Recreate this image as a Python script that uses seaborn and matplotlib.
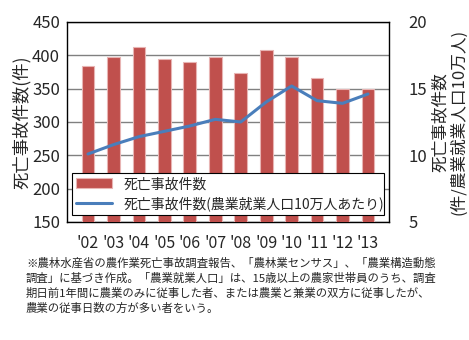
import matplotlib
matplotlib.use("Agg")
import matplotlib.pyplot as plt
import seaborn as sns
import pandas as pd
import numpy as np

years = ["'02", "'03", "'04", "'05", "'06", "'07", "'08", "'09", "'10", "'11", "'12", "'13"]
deaths = [384, 397, 413, 394, 390, 397, 374, 408, 398, 366, 350, 350]
rate = [10.1, 10.8, 11.4, 11.8, 12.2, 12.7, 12.5, 14.0, 15.2, 14.1, 13.9, 14.6]

sns.set_theme(style="white")
plt.rcParams['font.family'] = ['Noto Sans CJK JP', 'DejaVu Sans']

fig = plt.figure(figsize=(4.69, 3.4), dpi=100)
ax = fig.add_axes([67/469, 1-222/340, (389-67)/469, 200/340])
df = pd.DataFrame({"year": years, "deaths": deaths, "rate": rate})

sns.barplot(data=df, x="year", y="deaths", ax=ax, color="#C0504D", saturation=1,
            width=0.5, edgecolor="#E8B4B3", linewidth=0.8, label="死亡事故件数", zorder=3)
ax.set_ylim(150, 450)
ax.set_yticks(range(150, 451, 50))
ax.grid(axis="y", color="#808080", linewidth=1.0, zorder=0)
ax.set_axisbelow(True)
for s in ax.spines.values():
    s.set_color("black"); s.set_linewidth(1.0)
ax.set_xlabel("")
ax.set_ylabel("死亡事故件数(件)", fontsize=12.5, labelpad=1)
ax.tick_params(axis="y", labelsize=12, length=0, pad=5)
ax.tick_params(axis="x", labelsize=11.5, length=0, pad=9)

ax2 = ax.twinx()
sns.lineplot(x=np.arange(len(years)), y=rate, ax=ax2, color="#4A7EBB", linewidth=2.2,
             label="死亡事故件数(農業就業人口10万人あたり)", zorder=4)
ax2.set_ylim(5, 20)
ax2.set_yticks([5, 10, 15, 20])
ax2.tick_params(axis="y", labelsize=12, length=0, pad=14)
ax2.set_ylabel("死亡事故件数\n(件/農業就業人口10万人)", fontsize=12, labelpad=3, linespacing=1.15)
for s in ax2.spines.values():
    s.set_visible(False)
if ax2.legend_:
    ax2.legend_.remove()

h1, l1 = ax.get_legend_handles_labels()
h2, l2 = ax2.get_legend_handles_labels()
leg = ax2.legend(h1 + h2, l1 + l2, loc="lower left", bbox_to_anchor=(5/322, 0.035, 312/322, 0.2),
                 mode="expand", ncol=1, fontsize=10, frameon=True, fancybox=False, edgecolor="black",
                 framealpha=1, borderpad=0.3, handlelength=2.6, labelspacing=0.35,
                 borderaxespad=0)
leg.get_frame().set_linewidth(0.8)
leg.set_zorder(10)
if ax.legend_:
    ax.legend_.remove()

note = ("※農林水産省の農作業死亡事故調査報告、「農林業センサス」、「農業構造動態\n"
        "調査」に基づき作成。「農業就業人口」は、15歳以上の農家世帯員のうち、調査\n"
        "期日前1年間に農業のみに従事した者、または農業と兼業の双方に従事したが、\n"
        "農業の従事日数の方が多い者をいう。")
fig.text(26/469, 1-257/340, note, fontsize=8.2, va="top", ha="left", linespacing=1.45)

fig.savefig("out.png", dpi=100)
